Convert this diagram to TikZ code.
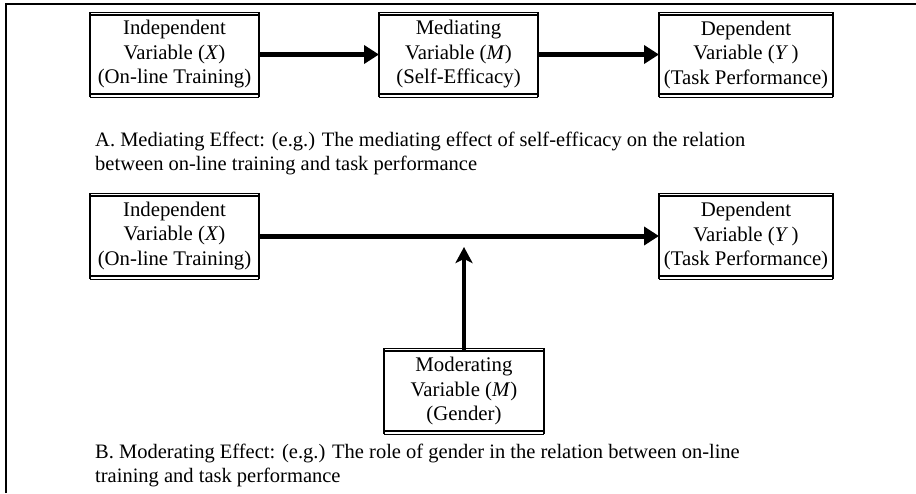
\documentclass[tikz,border=0pt]{standalone}
\usepackage{fontspec}
\setmainfont{Liberation Serif}
\usetikzlibrary{arrows.meta}
\begin{document}
\begin{tikzpicture}[x=1pt,y=-1pt,
  varbox/.style={draw, line width=2pt, outer sep=0pt, inner sep=0pt, align=center,
    font=\fontsize{20.8}{24.5}\selectfont, minimum height=79pt},
  captiontext/.style={anchor=base west, align=left, inner sep=0pt,
    font=\fontsize{20.5}{23.5}\selectfont},
  bigarrow/.style={line width=5pt, -{Triangle[length=15pt,width=18pt]}},
  modarrow/.style={line width=4.5pt, -{Stealth[length=16pt,width=17pt,inset=4pt]}},
  thinrule/.style={line width=0.8pt},
  thickrule/.style={line width=2pt}
]
\useasboundingbox (0,0) rectangle (916,493);
\draw[line width=1.5pt] (6,493) |- (916,4);

\node[varbox, minimum width=169pt] (x1) at (174.5,54.5) {Independent\\Variable (\textit{X})\\(On-line Training)};
\node[varbox, minimum width=159pt] (m1) at (458.5,54.5) {Mediating\\Variable (\textit{M})\\(Self-Efficacy)};
\node[varbox, minimum width=174pt] (y1) at (746,54.5) {Dependent\\Variable (\textit{Y}\,)\\(Task Performance)};

\node[varbox, minimum width=169pt, minimum height=80pt] (x2) at (174.5,236) {Independent\\Variable (\textit{X})\\(On-line Training)};
\node[varbox, minimum width=174pt, minimum height=80pt] (y2) at (746,236) {Dependent\\Variable (\textit{Y}\,)\\(Task Performance)};
\node[varbox, minimum width=160pt, minimum height=80pt] (m2) at (464,391) {Moderating\\Variable (\textit{M})\\(Gender)};

\foreach \n in {x1,m1,y1,x2,y2,m2}{
  \draw[thinrule] ([yshift=3pt]\n.north west) -- ([yshift=3pt]\n.north east);
  \draw[thinrule] ([yshift=-3pt]\n.south west) -- ([yshift=-3pt]\n.south east);
  \draw[thickrule] ([yshift=3pt]\n.north west) -- ([yshift=-3pt]\n.south west);
  \draw[thickrule] ([yshift=3pt]\n.north east) -- ([yshift=-3pt]\n.south east);
}

\draw[bigarrow] (x1) -- (m1);
\draw[bigarrow] (m1) -- (y1);
\draw[bigarrow] (x2) -- (y2);
\coordinate (mtip) at ([yshift=-11pt] m2.north |- x2.east);
\draw[modarrow] (m2.north) -- (mtip);

\node[captiontext] (capA) at (95,170) {A. Mediating Effect: (e.g.) The mediating effect of self-efficacy on the relation\\between on-line training and task performance};
\node[captiontext] (capB) at (95,482) {B. Moderating Effect: (e.g.) The role of gender in the relation between on-line\\training and task performance};
\end{tikzpicture}
\end{document}
